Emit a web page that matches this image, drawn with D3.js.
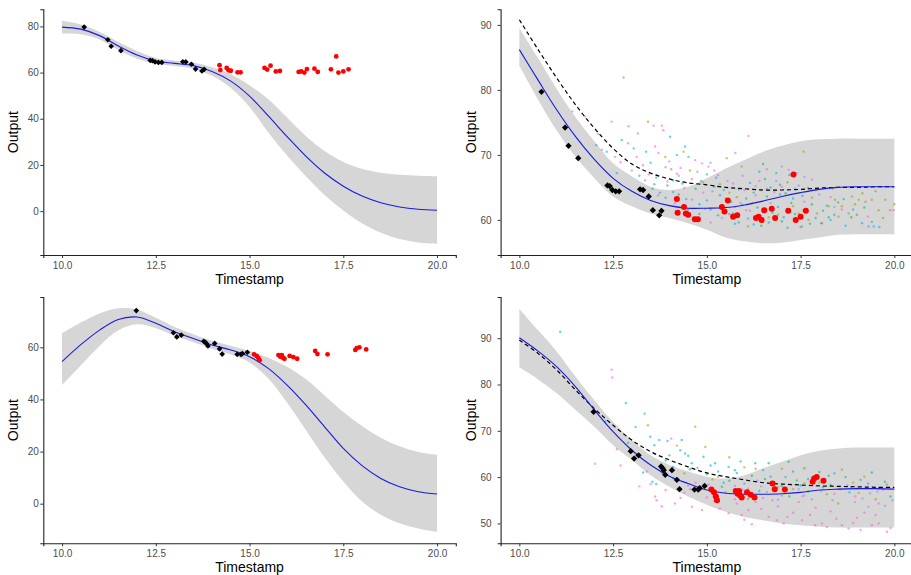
<!DOCTYPE html>
<html>
<head>
<meta charset="utf-8">
<script src="https://cdn.jsdelivr.net/npm/d3@7"></script>
<style>
  html, body { margin: 0; padding: 0; background: #fff; }
  svg { display: block; font-family: "Liberation Sans", Arial, sans-serif; }
</style>
</head>
<body>
<svg id="chart" width="911" height="575"></svg>
<script>
// ---- shared grid of timestamps for the fitted curves ----
const gridX = [10, 10.5, 11, 11.5, 12, 12.5, 13, 13.5, 14, 14.5, 15, 15.5, 16, 16.5, 17, 17.5, 18, 18.5, 19, 19.5, 20];
const xTicks = [10, 12.5, 15, 17.5, 20];

// ---- observations, series A (top row) ----
const obsA = [[10.59,79.7],[11.22,74.2],[11.31,71.4],[11.57,69.5],[12.35,65.3],[12.41,65.2],[12.48,64.6],[12.57,64.4],[12.66,64.4],[13.22,64.7],[13.30,64.6],[13.45,63.6],[13.56,61.5],[13.73,60.7],[13.79,61.4]];
const heldA = [[14.20,63.2],[14.22,61.1],[14.39,62.0],[14.44,61.0],[14.50,60.8],[14.68,60.1],[14.76,60.1],[15.40,62.0],[15.47,61.3],[15.56,63.0],[15.70,60.5],[15.81,60.7],[16.31,60.3],[16.38,60.5],[16.46,60.0],[16.53,61.5],[16.73,61.7],[16.82,60.3],[17.17,61.4],[17.31,67.0],[17.37,60.0],[17.50,60.5],[17.64,61.4]];

// ---- observations, series B (bottom row) ----
const obsB = [[11.98,74.1],[12.97,65.6],[13.06,64.0],[13.18,64.7],[13.78,62.3],[13.82,61.9],[13.85,61.5],[13.89,60.5],[14.07,61.5],[14.20,59.4],[14.27,57.4],[14.67,57.3],[14.77,57.3],[14.81,57.6],[14.94,58.1]];
const heldB = [[15.12,57.3],[15.19,56.7],[15.24,55.8],[15.27,55.0],[15.77,57.0],[15.82,56.4],[15.86,57.0],[15.89,56.0],[15.93,55.6],[16.07,56.7],[16.17,56.2],[16.27,55.6],[16.75,58.6],[16.81,57.4],[17.08,57.3],[17.82,59.0],[17.86,59.7],[17.93,60.0],[18.11,59.2]];

// ---- single-series fits (left column) ----
const meanA1  = [79.7,78.8,76.0,71.5,67.6,65.0,64.0,63.0,60.5,56.3,49.8,41.2,32.3,23.8,16.5,10.8,6.5,3.6,1.8,0.8,0.4];
const upperA1 = [82.4,80.8,77.6,73.3,69.3,66.3,65.2,64.4,62.3,59.3,54.5,48.5,40.5,32.5,26.0,21.3,18.3,16.6,15.7,15.3,15.1];
const lowerA1 = [76.9,76.6,74.3,69.8,66.0,63.8,62.8,61.6,58.6,53.3,45.1,34.0,24.1,15.1,7.0,0.3,-5.3,-9.4,-12.1,-13.6,-14.2];

const meanB1  = [54.5,61.0,66.6,70.7,71.6,69.2,66.0,63.4,60.9,59.0,56.4,51.9,45.5,37.9,29.5,21.2,14.6,9.7,6.5,4.6,3.7];
const upperB1 = [65.4,69.5,73.0,75.0,74.5,71.3,67.8,65.0,62.5,60.6,58.6,56.0,52.5,47.8,41.5,35.2,29.8,25.3,22.0,19.8,18.7];
const lowerB1 = [45.5,53.0,60.5,66.5,68.8,67.3,64.4,61.9,59.4,57.2,54.2,48.0,38.8,28.3,17.8,8.5,0.8,-4.2,-7.5,-9.5,-10.8];

// ---- pooled fits (right column) ----
const meanA2  = [86.2,81.5,76.9,72.8,69.3,66.4,64.4,63.0,62.2,61.8,61.8,61.9,62.3,62.9,63.6,64.2,64.7,65.0,65.1,65.1,65.1];
const upperA2 = [89.5,84.9,80.1,75.8,72.1,68.7,66.7,65.1,64.6,65.1,66.4,67.9,69.2,70.5,71.4,72.1,72.4,72.5,72.5,72.5,72.5];
const lowerA2 = [83.7,78.5,73.7,69.7,66.4,63.6,62.1,61.0,60.3,59.5,58.5,57.3,56.7,56.4,56.5,56.9,57.3,57.7,57.8,57.8,57.8];
const priorA2 = [90.8,86.2,81.8,77.7,74.1,71.0,68.6,67.2,66.3,65.7,65.4,65.0,64.8,64.6,64.6,64.7,64.9,65.0,65.0,65.1,65.1];

const meanB2  = [90.1,87.2,83.8,79.5,74.5,69.8,65.8,62.6,60.2,58.6,57.2,56.5,56.3,56.3,56.4,56.7,57.2,57.4,57.5,57.5,57.4];
const upperB2 = [96.3,91.7,87.1,81.7,76.6,71.9,68.0,64.7,62.6,61.2,60.1,59.7,60.4,61.9,63.3,64.7,65.7,66.2,66.4,66.4,66.4];
const lowerB2 = [83.7,81.1,78.1,74.5,70.9,66.9,63.7,60.4,57.9,55.8,54.0,52.5,51.4,50.7,50.0,49.6,49.3,49.1,49.1,49.1,49.1];
const priorB2 = [89.6,86.7,83.1,78.8,74.8,71.2,68.0,65.5,63.7,62.2,60.9,60.1,59.4,58.8,58.5,58.3,58.1,58.0,57.9,57.8,57.8];

// ---- related series, pooled into the right column fits ----
const relA_pink = [[11.41,76.7],[11.75,75.9],[12.1,73.2],[12.46,75.1],[12.55,69.7],[12.91,74.4],[12.9,71.8],[13.16,73.3],[13.13,69.7],[13.58,74.5],[13.8,74.5],[13.84,73.8],[13.62,71.3],[13.71,70.3],[13.3,68.4],[14.69,69.2],[14.87,68.7],[15.04,68.2],[15.76,70.3],[16.11,72.9],[14.2,67.1],[14.6,66.3],[15.3,66.9],[15.7,65.6],[16.0,64.6],[16.4,66.0],[17.18,67.7],[17.4,67.2],[17.8,66.2],[14.9,64.2],[15.5,63.3],[16.3,63.8],[17.0,65.1],[13.95,65.9],[14.4,64.9],[15.9,62.6],[16.8,64.3],[18.3,63.5],[19.98,61.5],[17.6,62.8],
  [12.2,70.8],[12.7,68.9],[13.45,67.0],[14.0,69.0],[14.3,68.0],[15.2,67.6],[16.6,67.8],[17.9,64.6],[18.6,61.6],[19.3,60.5],[16.05,61.5],[15.1,59.6],[14.15,62.6]];
const relA_cyan = [[12.33,70.5],[12.73,72.3],[13.38,70.5],[14.02,72.8],[14.42,71.3],[14.51,69.7],[13.2,66.8],[13.6,65.5],[14.1,64.3],[14.45,63.2],[14.8,62.4],[15.1,61.6],[15.35,63.8],[15.6,60.9],[15.85,64.7],[16.1,60.2],[16.25,59.3],[16.5,61.3],[16.65,59.6],[16.9,62.0],[17.05,60.4],[17.3,63.3],[17.5,58.9],[17.65,61.7],[17.9,60.3],[18.05,59.5],[18.4,60.8],[18.7,59.1],[19.14,59.5],[19.31,59.0],[19.45,59.0],[15.25,66.5],[16.4,67.4],[16.7,65.0],[17.2,66.9],[13.9,63.4],[15.0,63.0],[18.2,62.2],
  [12.05,71.5],[12.6,67.2],[13.05,71.0],[13.5,68.8],[14.2,70.0],[14.85,66.0],[15.45,64.6],[15.95,62.3],[16.15,65.7],[16.8,60.1],[17.15,58.8],[17.75,59.4],[18.3,60.0],[18.9,61.6],[19.6,58.9],[14.65,60.4],[15.75,59.4],[16.95,63.9],[17.35,64.8],[13.65,66.5]];
const relA_green = [[14.1,66.1],[14.35,65.6],[14.7,64.8],[15.2,65.1],[15.45,62.0],[15.7,61.0],[16.05,63.3],[16.35,61.9],[16.6,63.6],[16.55,66.3],[16.85,67.2],[17.1,64.1],[17.35,60.9],[17.55,63.7],[17.8,62.4],[18.1,61.4],[18.5,62.7],[18.85,60.4],[19.2,61.9],[13.75,64.2],[14.5,61.6],[15.85,59.6],[16.45,59.1],[17.0,59.8],
  [13.55,64.8],[13.95,65.3],[14.25,63.9],[14.8,60.9],[15.3,60.7],[15.65,62.8],[16.25,64.2],[16.75,61.1],[16.95,65.4],[17.25,62.6],[17.7,64.9],[18.25,60.4],[18.65,63.2],[19.0,60.8],[19.4,59.7],[15.0,67.0],[16.5,68.6]];
const relA_olive = [[12.78,81.9],[13.43,75.1],[13.89,69.7],[14.38,70.5],[15.53,69.5],[15.93,68.2],[17.58,70.5],[18.87,63.6],[19.05,63.1],[19.23,62.8],[19.4,63.1],[19.58,61.5],[19.76,63.1],[19.89,61.5],[18.07,59.5],[18.51,60.5],[18.6,62.1],[18.78,61.0],[18.42,63.1],[18.25,62.1],[17.94,61.0],[17.71,60.0],[17.54,59.0],[17.58,61.5],[16.2,62.5],[15.6,64.2],[14.9,65.8],[17.3,62.1],[16.9,60.8],[19.5,64.4],
  [14.05,67.8],[14.55,67.6],[15.35,65.5],[15.8,63.5],[16.45,64.6],[16.65,60.4],[17.15,65.8],[17.8,63.4],[18.35,64.8],[18.95,62.4],[19.15,64.1],[19.7,60.3],[20.0,62.4],[16.1,59.0],[17.45,61.0]];
const relA_purple = [[13.0,67.6],[14.25,66.8],[14.75,67.4],[15.15,64.4],[15.55,66.0],[15.95,66.8],[16.15,61.4],[16.7,62.6],[17.0,68.2],[17.45,65.3],[15.4,60.3],[14.6,63.1],[13.7,63.8],[18.0,63.9],[16.3,65.2],
  [13.35,66.1],[14.4,62.2],[14.95,61.7],[15.75,62.0],[16.6,64.8],[17.6,66.6],[16.85,66.0],[18.4,62.0],[15.1,68.8],[13.9,68.1]];

const relB_pink = [[12.46,83.2],[12.48,81.5],[12.02,62.9],[12.6,66.0],[13.1,64.4],[13.62,55.8],[13.66,55.0],[13.5,58.5],[13.9,57.2],[14.15,54.3],[14.4,56.6],[14.6,53.6],[14.87,52.9],[15.2,54.8],[15.58,52.2],[15.93,51.8],[16.11,52.9],[16.3,54.6],[16.65,51.4],[16.87,50.7],[17.05,50.0],[17.3,52.3],[17.54,50.7],[17.89,49.6],[18.07,50.0],[18.3,52.6],[18.6,49.6],[18.78,48.9],[19.0,51.2],[19.4,49.6],[19.58,50.0],[19.8,48.2],[19.31,53.6],[19.58,54.3],[18.96,55.8],[15.0,55.6],[15.8,54.3],[16.5,55.5],[17.6,56.0],[18.4,56.4],[19.7,57.3],[14.05,68.3],[13.4,61.2],[14.7,58.8],[16.1,57.5],[17.9,53.4],[19.2,52.3],[16.9,53.7],
  [12.7,62.5],[13.2,58.0],[13.8,53.7],[14.3,55.5],[14.55,57.4],[15.35,53.2],[15.75,55.2],[16.0,50.8],[16.45,53.1],[16.75,55.0],[17.15,51.4],[17.45,54.6],[17.75,51.8],[18.2,49.2],[18.45,51.0],[18.9,50.1],[19.1,48.6],[19.5,51.8],[19.9,49.0],[16.2,49.8]];
const relB_cyan = [[11.09,91.4],[12.84,76.0],[13.34,73.7],[13.49,68.7],[13.73,68.0],[13.95,67.8],[14.29,65.8],[14.42,65.1],[14.5,64.6],[13.3,61.0],[13.55,59.0],[13.65,58.5],[14.6,63.0],[15.58,62.2],[15.8,60.9],[16.29,63.0],[16.5,61.5],[17.1,60.0],[17.5,58.2],[18.1,57.8],[18.8,56.7],[19.3,58.6],[15.1,62.5],[16.0,58.6],[17.3,61.2],[12.3,72.0],[14.1,62.2],
  [13.1,70.8],[13.6,66.9],[14.0,64.7],[14.75,62.0],[15.3,61.2],[15.9,63.4],[16.7,60.1],[17.7,59.6],[18.4,60.8],[19.0,57.5],[15.45,58.8]];
const relB_green = [[14.33,68.0],[14.91,64.4],[15.22,63.0],[16.65,63.0],[17.18,63.3],[15.6,59.2],[16.2,60.3],[16.8,58.9],[17.4,59.3],[17.7,56.9],[18.0,61.1],[18.3,58.3],[18.7,60.0],[19.1,59.4],[19.6,57.6],[19.9,55.8],[15.4,57.9],[16.4,57.0],[17.2,55.8],[14.1,59.8],[13.8,60.9],[12.9,67.4],
  [13.9,63.6],[14.55,61.7],[15.0,60.6],[15.75,61.5],[16.55,59.6],[17.0,58.1],[17.6,61.9],[18.25,60.3],[18.85,57.7],[19.4,61.0],[19.75,59.0],[16.1,55.3]];
const relB_olive = [[13.43,71.2],[14.69,70.9],[14.96,66.5],[15.3,60.1],[16.0,62.1],[16.9,57.8],[17.6,58.7],[18.2,56.3],[18.9,58.8],[19.5,55.2],[15.9,56.0],[14.4,60.8],[17.0,61.8],[19.2,60.1],[18.5,54.3],
  [14.2,66.8],[15.6,64.3],[16.3,61.8],[17.3,57.4],[18.0,58.8],[18.6,61.6],[19.05,56.6],[19.8,58.4],[15.15,59.5]];
const relB_purple = [[15.05,58.4],[15.5,56.8],[15.75,58.1],[16.15,56.2],[16.6,56.8],[17.0,56.0],[17.45,57.4],[17.8,55.2],[18.15,59.6],[18.55,57.4],[18.95,54.6],[19.35,56.5],[19.75,53.8],[16.35,59.2],[17.25,58.4],[14.8,57.5],
  [15.3,55.9],[15.95,57.3],[16.45,58.0],[16.9,55.1],[17.55,55.9],[18.05,57.0],[18.35,55.0],[18.75,58.3],[19.15,55.4],[19.55,56.9],[19.95,55.0],[14.5,58.2]];

const relColors = { pink: "#F564E3", cyan: "#00B0F6", green: "#00BF7D", olive: "#A3A500", purple: "#9590FF" };

// ---- panel layout ----
const panels = [
  { x0: 43.3, x1: 455.8, top: 9.3, bot: 255, yDom: [-19.0, 87.4], yTicks: [0,20,40,60,80], yPad: 1.5,
    mean: meanA1, upper: upperA1, lower: lowerA1, obs: obsA, held: heldA, heldR: 2.4, obsS: 16 },
  { x0: 500.6, x1: 913.1, top: 9.3, bot: 255, yDom: [54.6, 92.4], yTicks: [60,70,80,90], yPad: 6,
    mean: meanA2, upper: upperA2, lower: lowerA2, prior: priorA2, obs: obsA, held: heldA, heldR: 3, obsS: 20,
    related: { pink: relA_pink, cyan: relA_cyan, green: relA_green, olive: relA_olive, purple: relA_purple } },
  { x0: 43.3, x1: 455.8, top: 297, bot: 543.3, yDom: [-15.2, 79.3], yTicks: [0,20,40,60], yPad: 1.5,
    mean: meanB1, upper: upperB1, lower: lowerB1, obs: obsB, held: heldB, heldR: 2.4, obsS: 16 },
  { x0: 500.6, x1: 913.1, top: 297, bot: 543.3, yDom: [45.7, 98.9], yTicks: [50,60,70,80,90], yPad: 6,
    mean: meanB2, upper: upperB2, lower: lowerB2, prior: priorB2, obs: obsB, held: heldB, heldR: 3, obsS: 20,
    related: { pink: relB_pink, cyan: relB_cyan, green: relB_green, olive: relB_olive, purple: relB_purple } }
];

const svg = d3.select("#chart");

panels.forEach(p => {
  const x = d3.scaleLinear().domain([9.5, 20.5]).range([p.x0, p.x1]);
  const y = d3.scaleLinear().domain(p.yDom).range([p.bot, p.top]);
  const g = svg.append("g");

  // confidence band
  const band = d3.area()
    .x((d, i) => x(gridX[i]))
    .y0((d, i) => y(p.lower[i]))
    .y1((d, i) => y(p.upper[i]))
    .curve(d3.curveCatmullRom.alpha(0.5));
  g.append("path").datum(p.mean).attr("d", band).attr("fill", "#d6d6d6");

  // related series points
  if (p.related) {
    Object.entries(p.related).forEach(([k, pts]) => {
      g.append("g").selectAll("circle").data(pts).join("circle")
        .attr("cx", d => x(d[0])).attr("cy", d => y(d[1]))
        .attr("r", 1.2).attr("fill", relColors[k]).attr("fill-opacity", 0.6);
    });
  }

  const line = arr => d3.line()
    .x((d, i) => x(gridX[i]))
    .y(d => y(d))
    .curve(d3.curveCatmullRom.alpha(0.5))(arr);

  // prior mean (dashed)
  if (p.prior) {
    g.append("path").attr("d", line(p.prior)).attr("fill", "none")
      .attr("stroke", "#000").attr("stroke-width", 1.2).attr("stroke-dasharray", "4,3");
  }

  // posterior mean
  g.append("path").attr("d", line(p.mean)).attr("fill", "none")
    .attr("stroke", "#1a1ae0").attr("stroke-width", 1.1);

  // training observations (diamonds)
  g.append("g").selectAll("path").data(p.obs).join("path")
    .attr("d", d3.symbol(d3.symbolSquare, p.obsS)).attr("fill", "#000")
    .attr("transform", d => `translate(${x(d[0])},${y(d[1])}) rotate(45)`);

  // held-out observations
  g.append("g").selectAll("circle").data(p.held).join("circle")
    .attr("cx", d => x(d[0])).attr("cy", d => y(d[1]))
    .attr("r", p.heldR).attr("fill", "#ff0000");

  // axes
  const ax = g.append("g").attr("transform", `translate(0,${p.bot})`)
    .call(d3.axisBottom(x).tickValues(xTicks).tickFormat(d3.format(".1f"))
      .tickSizeOuter(0).tickSize(3).tickPadding(3.4));
  const ay = g.append("g").attr("transform", `translate(${p.x0},0)`)
    .call(d3.axisLeft(y).tickValues(p.yTicks).tickFormat(d3.format("d"))
      .tickSizeOuter(0).tickSize(3).tickPadding(p.yPad));
  [ax, ay].forEach(a => {
    a.select(".domain").attr("stroke", "#222").attr("stroke-width", 1.1);
    a.selectAll(".tick line").attr("stroke", "#333").attr("stroke-width", 1);
    a.selectAll(".tick text").attr("fill", "#4d4d4d")
      .style("font-size", "10px").style("font-family", "'Liberation Sans', Arial, sans-serif");
  });

  // axis titles
  g.append("text")
    .attr("x", (x(10) + x(20)) / 2).attr("y", p.bot + 28.5)
    .attr("text-anchor", "middle").attr("fill", "#000")
    .style("font-size", "14px").text("Timestamp");
  g.append("text")
    .attr("transform", `translate(${p.x0 - 25},${(p.top + p.bot) / 2}) rotate(-90)`)
    .attr("text-anchor", "middle").attr("fill", "#000")
    .style("font-size", "14px").text("Output");
});
</script>
</body>
</html>
